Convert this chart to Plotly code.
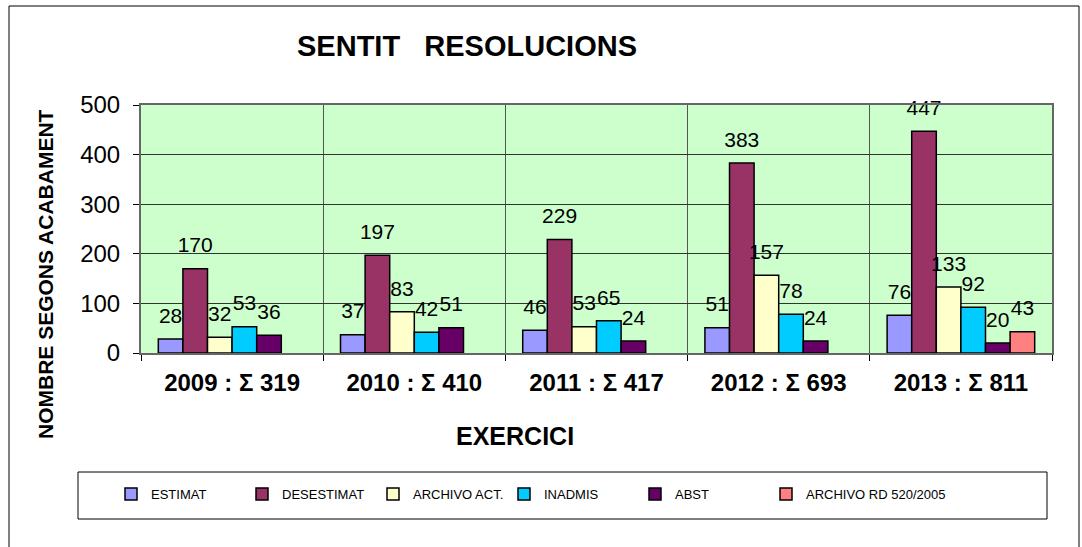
import plotly.graph_objects as go

years = ["2009", "2010", "2011", "2012", "2013"]
totals = [319, 410, 417, 693, 811]
tick_labels = [f"{y} : Σ {t}" for y, t in zip(years, totals)]

series_names = ["ESTIMAT", "DESESTIMAT", "ARCHIVO ACT.", "INADMIS", "ABST", "ARCHIVO RD 520/2005"]
estimat = [28, 37, 46, 51, 76]
desestimat = [170, 197, 229, 383, 447]
archivo_act = [32, 83, 53, 157, 133]
inadmis = [53, 42, 65, 78, 92]
abst = [36, 51, 24, 24, 20]
archivo_rd = [None, None, None, None, 43]
colors = ["#9999FF", "#993366", "#FFFFCC", "#00CCFF", "#660066", "#FF8080"]

all_series = [estimat, desestimat, archivo_act, inadmis, abst, archivo_rd]

FONT = "Arial, Liberation Sans, sans-serif"
GAP = 0.19

fig = go.Figure()
for i, (name, vals, col) in enumerate(zip(series_names, all_series, colors)):
    fig.add_trace(go.Bar(
        name=name, x=tick_labels, y=vals, offsetgroup=str(i),
        marker=dict(color=col, line=dict(color="black", width=1.5)),
        hoverinfo="x+y+name",
    ))
# invisible spacer so the last legend entry is not clipped
fig.add_trace(go.Bar(name=" ", x=tick_labels, y=[None] * len(tick_labels), offsetgroup=str(len(series_names) - 1),
                     marker=dict(color="rgba(0,0,0,0)", line=dict(width=0)), hoverinfo="skip"))
# data labels, grouped like the bars
for i, (name, vals) in enumerate(zip(series_names, all_series)):
    fig.add_trace(go.Scatter(
        x=tick_labels, y=vals, mode="markers+text", offsetgroup=str(i), orientation="v",
        marker=dict(size=16, opacity=0), showlegend=False, hoverinfo="skip",
        text=[("" if v is None else str(v)) for v in vals], textposition="top center",
        textfont=dict(family=FONT, size=21, color="black"), cliponaxis=False,
    ))

L, R, T, B = 141, 1052, 105, 353
W, H = 1082, 547
pw, ph = R - L, B - T
def px(x):
    return (x - L) / pw
def py(y):
    return (B - y) / ph

fig.update_layout(
    width=W, height=H,
    margin=dict(l=L, r=W - R, t=T, b=H - B, pad=0),
    paper_bgcolor="white", plot_bgcolor="#CCFFCC",
    barmode="group", bargap=GAP, bargroupgap=0,
    scattermode="group", scattergap=GAP,
    font=dict(family=FONT, color="black"),
    showlegend=True,
    legend=dict(orientation="h", x=px(111), xanchor="left", y=py(494), yanchor="middle",
                font=dict(family=FONT, size=13),
                entrywidth=86, entrywidthmode="pixels", bgcolor="rgba(0,0,0,0)",
                traceorder="normal", itemclick=False),
    xaxis=dict(type="category", tickson="boundaries", showgrid=True, gridcolor="#555555", gridwidth=1,
               ticks="outside", ticklen=6, tickcolor="black",
               showline=True, linecolor="#666666", linewidth=2, mirror=True,
               tickfont=dict(family=FONT, size=24, color="black", weight="bold"),
               ticklabelstandoff=7),
    yaxis=dict(range=[0, 500], tickvals=[0, 100, 200, 300, 400, 500],
               showgrid=True, gridcolor="#333333", gridwidth=1,
               ticks="outside", ticklen=6, tickcolor="black",
               showline=True, linecolor="#666666", linewidth=2, mirror=True,
               tickfont=dict(family=FONT, size=24, color="black"),
               ticklabelstandoff=8, zeroline=False),
    annotations=[
        dict(text="<b>SENTIT   RESOLUCIONS</b>", xref="paper", yref="paper", x=px(467), y=py(46),
             xanchor="center", yanchor="middle", showarrow=False, font=dict(size=29, family=FONT)),
        dict(text="<b>EXERCICI</b>", xref="paper", yref="paper", x=px(515), y=py(436),
             xanchor="center", yanchor="middle", showarrow=False, font=dict(size=25, family=FONT)),
        dict(text="<b>NOMBRE SEGONS ACABAMENT</b>", xref="paper", yref="paper", x=px(45), y=py(274),
             xanchor="center", yanchor="middle", textangle=-90, showarrow=False, font=dict(size=21, family=FONT)),
    ],
    shapes=[
        dict(type="rect", xref="paper", yref="paper", x0=px(78), x1=px(1047), y0=py(519), y1=py(472),
             line=dict(color="black", width=1), fillcolor="rgba(0,0,0,0)", layer="below"),
        dict(type="rect", xref="paper", yref="paper", x0=px(9), x1=px(1079), y0=py(570), y1=py(6),
             line=dict(color="black", width=1), fillcolor="rgba(0,0,0,0)", layer="below"),
    ],
)

fig.write_html("out.html", config={"displayModeBar": False},
               post_script="document.body.style.margin='0px';")
